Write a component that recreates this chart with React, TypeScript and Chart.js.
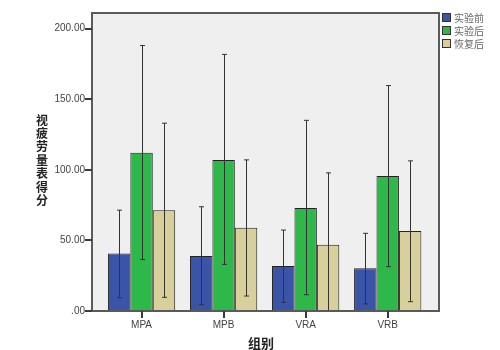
import React, { useEffect, useRef } from "react";
import { Chart, registerables } from "chart.js";

Chart.register(...registerables);

const categories = ["MPA", "MPB", "VRA", "VRB"];
const seriesNames = ["实验前", "实验后", "恢复后"];
const before = [40.8, 39, 31.8, 30.2];
const after = [112, 107, 73, 95.5];
const recovery = [71.4, 59, 46.9, 56.6];
const beforeLow = [9.4, 4.5, 6.1, 5];
const beforeHigh = [71.4, 73.8, 57.3, 55];
const afterLow = [36.5, 33, 11.5, 31.4];
const afterHigh = [188, 181.7, 135, 159.6];
const recoveryLow = [9.7, 10.6, -4, 6.6];
const recoveryHigh = [133, 107, 97.8, 106.3];
const yTicks = [0, 50, 100, 150, 200];
const yTitle = "视疲劳量表得分";
const xTitle = "组别";

const colors = ["#3A55A8", "#2FB84A", "#D7D09A"];
const lows = [beforeLow, afterLow, recoveryLow];
const highs = [beforeHigh, afterHigh, recoveryHigh];

const FONT_CJK = "'Noto Sans CJK SC', sans-serif";

const bgPlugin = {
  id: "bgFrame",
  beforeDraw(chart: any) {
    const { ctx, chartArea: a } = chart;
    ctx.save();
    ctx.fillStyle = "#EFEFEF";
    ctx.fillRect(a.left, a.top, a.right - a.left, a.bottom - a.top);
    ctx.restore();
  },
  afterDatasetsDraw(chart: any) {
    const { ctx, chartArea: a, scales } = chart;
    const y = scales.y;
    ctx.save();
    ctx.beginPath();
    ctx.rect(a.left, a.top, a.right - a.left, a.bottom - a.top);
    ctx.clip();
    ctx.strokeStyle = "#333";
    ctx.lineWidth = 1;
    chart.data.datasets.forEach((ds: any, di: number) => {
      const meta = chart.getDatasetMeta(di);
      meta.data.forEach((bar: any, i: number) => {
        const px = Math.round(bar.x) + 0.5;
        const yh = y.getPixelForValue(highs[di][i]);
        const yl = y.getPixelForValue(lows[di][i]);
        ctx.beginPath();
        ctx.moveTo(px, yh);
        ctx.lineTo(px, yl);
        ctx.moveTo(px - 2.5, yh);
        ctx.lineTo(px + 2.5, yh);
        ctx.moveTo(px - 2.5, yl);
        ctx.lineTo(px + 2.5, yl);
        ctx.stroke();
      });
    });
    ctx.restore();
  },
  afterDraw(chart: any) {
    const { ctx, chartArea: a, scales } = chart;
    const y = scales.y;
    const x = scales.x;
    ctx.save();
    ctx.strokeStyle = "#5a5a5a";
    ctx.lineWidth = 2;
    ctx.strokeRect(a.left, a.top, a.right - a.left, a.bottom - a.top);
    ctx.strokeStyle = "#3a3a3a";
    ctx.lineWidth = 2;
    ctx.beginPath();
    for (const v of yTicks) {
      const py = Math.round(y.getPixelForValue(v));
      ctx.moveTo(a.left - 7, py);
      ctx.lineTo(a.left, py);
    }
    for (let i = 0; i < categories.length; i++) {
      const px = Math.round(x.getPixelForValue(i));
      ctx.moveTo(px, a.bottom);
      ctx.lineTo(px, a.bottom + 7);
    }
    ctx.stroke();

    chart.data.datasets.forEach((ds: any, i: number) => {
      const yy = 13 + i * 13;
      ctx.fillStyle = ds.backgroundColor;
      ctx.fillRect(442, yy, 9, 9);
      ctx.strokeStyle = "#333";
      ctx.lineWidth = 1;
      ctx.strokeRect(442.5, yy + 0.5, 8, 8);
      ctx.fillStyle = "#666";
      ctx.font = `10px ${FONT_CJK}`;
      ctx.textAlign = "left";
      ctx.textBaseline = "middle";
      ctx.fillText(ds.label, 454, yy + 5);
    });
    ctx.fillStyle = "#222";
    ctx.font = `bold 12px ${FONT_CJK}`;
    ctx.textAlign = "center";
    ctx.textBaseline = "middle";
    Array.from(yTitle).forEach((ch, i) => {
      ctx.fillText(ch, 42, 120 + i * 13.4);
    });
    ctx.font = `bold 13px ${FONT_CJK}`;
    ctx.fillText(xTitle, 261, 343);
    ctx.restore();
  },
};

export default function App() {
  const ref = useRef<HTMLCanvasElement | null>(null);
  useEffect(() => {
    if (!ref.current) return;
    const series = [before, after, recovery];
    const chart = new Chart(ref.current, {
      type: "bar",
      data: {
        datasets: series.map((s, di) => ({
          label: seriesNames[di],
          data: s.map((v, i) => ({ x: i, y: v })),
          backgroundColor: colors[di],
          borderColor: "#222",
          borderWidth: 1,
          barPercentage: 1,
          categoryPercentage: 0.82,
        })),
      },
      options: {
        animation: false,
        responsive: false,
        maintainAspectRatio: false,
        layout: { padding: { left: 0, top: 12, right: 61, bottom: 0 } },
        plugins: { legend: { display: false }, tooltip: { enabled: false } },
        scales: {
          x: {
            type: "linear",
            min: -0.604,
            max: 3.625,
            offset: false,
            afterBuildTicks: (scale: any) => {
              scale.ticks = categories.map((_, i) => ({ value: i }));
            },
            afterFit: (scale: any) => {
              scale.height = 39;
            },
            border: { display: false },
            grid: { display: false, drawTicks: false },
            ticks: {
              callback: (v: any) => categories[v] ?? "",
              font: { size: 10, family: "Arial, 'Liberation Sans', sans-serif" },
              color: "#444",
              padding: 8,
              maxRotation: 0,
              autoSkip: false,
            },
          },
          y: {
            min: 0,
            max: 211,
            afterBuildTicks: (scale: any) => {
              scale.ticks = yTicks.map((v) => ({ value: v }));
            },
            afterFit: (scale: any) => {
              scale.width = 92;
            },
            border: { display: false },
            grid: { display: false, drawTicks: false },
            ticks: {
              callback: (v: any) => (v === 0 ? ".00" : Number(v).toFixed(2)),
              font: { size: 10, family: "Arial, 'Liberation Sans', sans-serif" },
              color: "#444",
              padding: 7,
            },
          },
        },
      },
      plugins: [bgPlugin],
    } as any);
    return () => chart.destroy();
  }, []);
  return (
    <div style={{ position: "absolute", left: 0, top: 0, width: 500, height: 350, background: "#fff" }}>
      <canvas ref={ref} width={500} height={350} style={{ width: 500, height: 350 }} />
    </div>
  );
}
